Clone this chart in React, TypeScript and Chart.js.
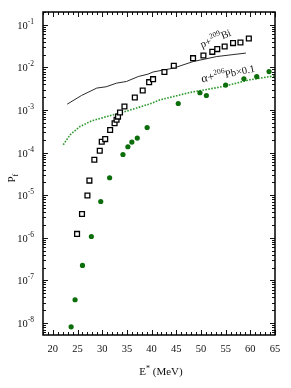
import React, { useEffect, useRef } from 'react';
import { Chart, registerables } from 'chart.js';

Chart.register(...registerables);

// p + 209Bi experimental (open squares)
const pBiExpE = [24.9, 25.9, 27.0, 27.4, 28.4, 29.5, 29.9, 30.6, 31.6, 32.5, 32.9, 33.2, 33.6, 34.5, 36.6, 38.2, 39.5, 40.3, 42.6, 44.5, 48.4, 50.5, 52.3, 53.3, 54.8, 56.5, 58.0, 59.7];
const pBiExpP = [1.23e-6, 3.6e-6, 9.8e-6, 2.2e-5, 6.8e-5, 1.1e-4, 1.8e-4, 2.07e-4, 3.4e-4, 4.9e-4, 5.9e-4, 7.0e-4, 8.7e-4, 1.21e-3, 1.96e-3, 2.87e-3, 4.5e-3, 5.3e-3, 7.8e-3, 1.09e-2, 1.65e-2, 1.9e-2, 2.32e-2, 2.69e-2, 3.1e-2, 3.72e-2, 3.85e-2, 4.77e-2];

// alpha + 206Pb experimental (filled circles)
const aPbExpE = [23.7, 24.5, 26.0, 27.8, 29.7, 31.5, 34.2, 35.2, 36.0, 37.1, 39.1, 45.4, 49.8, 51.1, 55.0, 58.7, 61.3, 63.8];
const aPbExpP = [8.1e-9, 3.5e-8, 2.24e-7, 1.07e-6, 7.1e-6, 2.56e-5, 9.0e-5, 1.37e-4, 1.76e-4, 2.19e-4, 3.88e-4, 1.42e-3, 2.54e-3, 2.19e-3, 3.85e-3, 5.4e-3, 6.1e-3, 8.0e-3];

// p + 209Bi calculation (solid line)
const pBiCalcE = [22.9, 25.8, 28.9, 30.8, 32.9, 34.9, 37.3, 39.3, 40.3, 44.4, 48.4, 53.2, 59.1];
const pBiCalcP = [1.37e-3, 2.19e-3, 3.27e-3, 3.51e-3, 4.27e-3, 4.67e-3, 6.1e-3, 6.97e-3, 7.8e-3, 9.6e-3, 1.37e-2, 1.8e-2, 2.17e-2];

// alpha + 206Pb calculation x0.1 (dotted line)
const aPbCalcE = [22.1, 23.5, 25.5, 27.9, 30.9, 33.6, 36.3, 39.7, 41.7, 47.8, 54.5, 59.9, 65.0];
const aPbCalcP = [1.52e-4, 2.62e-4, 4.1e-4, 5.57e-4, 7.0e-4, 8.45e-4, 1.05e-3, 1.40e-3, 1.73e-3, 2.58e-3, 3.56e-3, 5.12e-3, 6.35e-3];

const xTickValues = [20, 25, 30, 35, 40, 45, 50, 55, 60, 65];
const yTickExponents = [-1, -2, -3, -4, -5, -6, -7, -8];

const X_MIN = 18;
const X_MAX = 65;
const Y_MIN = 5.2e-9;
const Y_MAX = 0.2;

const SERIF = '"Liberation Serif", "DejaVu Serif", serif';

const zip = (xs: number[], ys: number[]) => xs.map((x, i) => ({ x, y: ys[i] }));

const framePlugin = {
  id: 'frameTicks',
  afterDraw(chart: any) {
    const { ctx, chartArea: a, scales } = chart;
    const xs = scales.x;
    const ys = scales.y;
    ctx.save();
    // minor/major ticks pointing inward
    ctx.strokeStyle = '#111';
    ctx.lineWidth = 1;
    ctx.beginPath();
    for (let v = Math.ceil(X_MIN); v <= X_MAX; v++) {
      const px = Math.round(xs.getPixelForValue(v)) + 0.5;
      const len = v % 5 === 0 ? 5 : 3;
      ctx.moveTo(px, a.bottom);
      ctx.lineTo(px, a.bottom - len);
      ctx.moveTo(px, a.top);
      ctx.lineTo(px, a.top + len);
    }
    for (let e = -9; e <= 0; e++) {
      for (let k = 1; k <= 9; k++) {
        const v = k * Math.pow(10, e);
        if (v < Y_MIN || v > Y_MAX) continue;
        const py = Math.round(ys.getPixelForValue(v)) + 0.5;
        const len = k === 1 ? 5 : 3;
        ctx.moveTo(a.left, py);
        ctx.lineTo(a.left + len, py);
        ctx.moveTo(a.right, py);
        ctx.lineTo(a.right - len, py);
      }
    }
    ctx.stroke();
    // frame
    ctx.lineWidth = 1.5;
    ctx.strokeStyle = '#000';
    ctx.strokeRect(a.left, a.top, a.right - a.left, a.bottom - a.top);

    ctx.fillStyle = '#111';
    // x tick labels
    ctx.font = `10.5px ${SERIF}`;
    ctx.textAlign = 'center';
    ctx.textBaseline = 'middle';
    xTickValues.forEach((v) => {
      ctx.fillText(String(v), xs.getPixelForValue(v), a.bottom + 14);
    });
    // y tick labels 10^n
    yTickExponents.forEach((e) => {
      const py = ys.getPixelForValue(Math.pow(10, e));
      const expStr = '-' + String(-e);
      ctx.font = `7.5px ${SERIF}`;
      const ew = ctx.measureText(expStr).width;
      const right = a.left - 9;
      ctx.textAlign = 'left';
      ctx.textBaseline = 'alphabetic';
      ctx.fillText(expStr, right - ew, py - 1);
      ctx.font = `10.5px ${SERIF}`;
      const bw = ctx.measureText('10').width;
      ctx.fillText('10', right - ew - bw, py + 4);
    });

    // axis title x: E* (MeV)
    ctx.font = `11px ${SERIF}`;
    const e1 = 'E';
    const e3 = ' (MeV)';
    ctx.font = `11px ${SERIF}`;
    const w1 = ctx.measureText(e1).width;
    const w3 = ctx.measureText(e3).width;
    ctx.font = `8px ${SERIF}`;
    const w2 = ctx.measureText('*').width;
    const cx = (a.left + a.right) / 2 + 2;
    let sx = cx - (w1 + w2 + w3) / 2;
    const by = a.bottom + 40;
    ctx.textAlign = 'left';
    ctx.textBaseline = 'alphabetic';
    ctx.font = `11px ${SERIF}`;
    ctx.fillText(e1, sx, by);
    sx += w1;
    ctx.font = `8px ${SERIF}`;
    ctx.fillText('*', sx, by - 4);
    sx += w2;
    ctx.font = `11px ${SERIF}`;
    ctx.fillText(e3, sx, by);

    // axis title y: P_f
    ctx.save();
    ctx.translate(15, (a.top + a.bottom) / 2 + 4);
    ctx.rotate(-Math.PI / 2);
    ctx.font = `11px ${SERIF}`;
    ctx.fillText('P', -5, 0);
    const pw = ctx.measureText('P').width;
    ctx.font = `8px ${SERIF}`;
    ctx.fillText('f', -5 + pw, 3);
    ctx.restore();

    // annotation: p+209Bi
    const drawRich = (parts: [string, number, number][], x0: number, y0: number, ang: number) => {
      ctx.save();
      ctx.translate(x0, y0);
      ctx.rotate(ang);
      let cxp = 0;
      parts.forEach(([t, size, dy]) => {
        ctx.font = `${size}px ${SERIF}`;
        ctx.fillText(t, cxp, dy);
        cxp += ctx.measureText(t).width;
      });
      ctx.restore();
    };
    ctx.fillStyle = '#111';
    drawRich([['p+', 10.5, 0], ['209', 7.5, -5], ['Bi', 10.5, 0]], 202, 48, -0.40);
    drawRich([['α+', 12, 0], ['206', 7.5, -5], ['Pb', 10.5, 0], ['×0.1', 10.5, 0]], 202, 82.5, -0.20);

    ctx.restore();
  },
};

export default function App() {
  const ref = useRef<HTMLCanvasElement>(null);
  useEffect(() => {
    document.body.style.margin = '0';
    const chart = new Chart(ref.current as HTMLCanvasElement, {
      type: 'scatter',
      data: {
        datasets: [
          {
            label: 'p+209Bi calc',
            data: zip(pBiCalcE, pBiCalcP),
            showLine: true,
            borderColor: '#2a2a2a',
            borderWidth: 1,
            pointRadius: 0,
            tension: 0,
            order: 3,
          },
          {
            label: 'α+206Pb calc ×0.1',
            data: zip(aPbCalcE, aPbCalcP),
            showLine: true,
            borderColor: '#2e9a2e',
            borderWidth: 1.6,
            borderDash: [1.6, 1.4],
            pointRadius: 0,
            tension: 0,
            order: 4,
          },
          {
            label: 'p+209Bi exp',
            data: zip(pBiExpE, pBiExpP),
            pointStyle: 'rect',
            pointRadius: 3.4,
            pointBorderWidth: 1.3,
            borderColor: '#000',
            backgroundColor: '#fff',
            pointBackgroundColor: '#fff',
            pointBorderColor: '#000',
            order: 1,
          },
          {
            label: 'α+206Pb exp',
            data: zip(aPbExpE, aPbExpP),
            pointStyle: 'circle',
            pointRadius: 2.6,
            pointBorderWidth: 0,
            backgroundColor: '#0b6e0b',
            pointBackgroundColor: '#0b6e0b',
            borderColor: '#0b6e0b',
            order: 2,
          },
        ],
      },
      options: {
        responsive: false,
        animation: false,
        devicePixelRatio: 1,
        layout: { padding: { top: 12, right: 16, left: 0, bottom: 0 } },
        plugins: {
          legend: { display: false },
          tooltip: { enabled: false },
        },
        scales: {
          x: {
            type: 'linear',
            min: X_MIN,
            max: X_MAX,
            grid: { display: false },
            border: { display: false },
            ticks: { display: false },
            afterFit: (s: any) => {
              s.height = 53;
            },
          },
          y: {
            type: 'logarithmic',
            min: Y_MIN,
            max: Y_MAX,
            grid: { display: false },
            border: { display: false },
            ticks: { display: false },
            afterFit: (s: any) => {
              s.width = 43;
            },
          },
        },
      },
      plugins: [framePlugin],
    });
    return () => chart.destroy();
  }, []);
  return (
    <div style={{ position: 'absolute', left: 0, top: 0, width: 291, height: 388, background: '#fff' }}>
      <canvas ref={ref} width={291} height={388} style={{ width: 291, height: 388, display: 'block' }} />
    </div>
  );
}
